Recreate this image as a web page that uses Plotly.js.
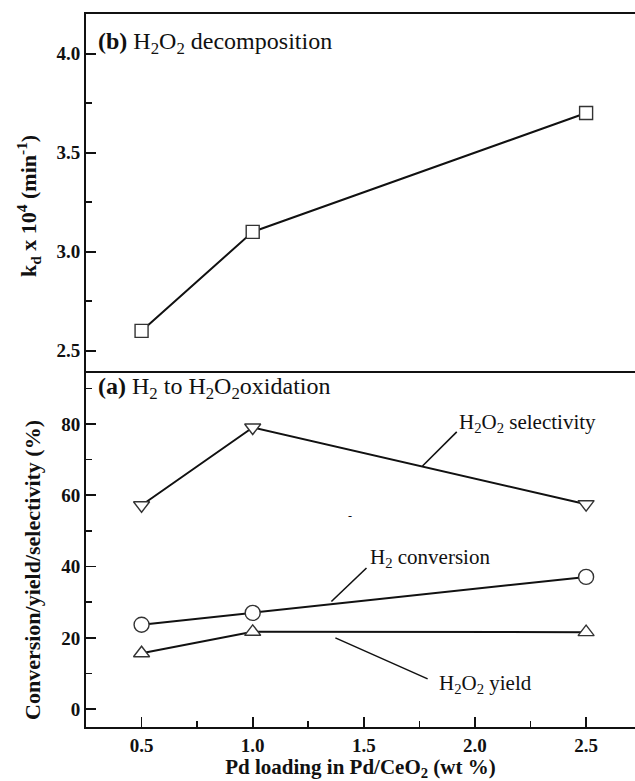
<!DOCTYPE html>
<html>
<head>
<meta charset="utf-8">
<script src="https://cdn.plot.ly/plotly-3.0.1.min.js"></script>
<style>
  html, body { margin: 0; padding: 0; background: #fff; }
  #chart { width: 635px; height: 781px; }
</style>
</head>
<body>
<div id="chart"></div>
<script>
// Pd loading (wt %) on Pd/CeO2
const pdLoading = [0.5, 1.0, 2.5];

// (b) H2O2 decomposition rate constant, kd x 10^4 (min^-1)
const kdValues = [2.6, 3.1, 3.7];

// (a) H2 to H2O2 oxidation (%)
const h2o2Selectivity = [57.2, 79.0, 57.5];
const h2Conversion = [23.7, 27.0, 37.1];
const h2o2Yield = [15.7, 21.7, 21.6];

const xTickVals = [0.5, 1.0, 1.5, 2.0, 2.5];
const xTickText = ['0.5', '1.0', '1.5', '2.0', '2.5'];
const kdTickVals = [2.5, 3.0, 3.5, 4.0];
const kdTickText = ['2.5', '3.0', '3.5', '4.0'];
const pctTickVals = [0, 20, 40, 60, 80];
const pctTickText = ['0', '20', '40', '60', '80'];

const SERIF = 'Liberation Serif, Times New Roman, serif';
const INK = '#111';
const MARK_EDGE = '#333';

function series(x, y, symbol, size, xa, ya) {
  return {
    x: x, y: y, xaxis: xa, yaxis: ya,
    type: 'scatter', mode: 'lines+markers',
    line: { color: INK, width: 2 },
    marker: { symbol: symbol, size: size, color: '#fff',
              line: { color: MARK_EDGE, width: 1.4 } },
    showlegend: false, hoverinfo: 'x+y'
  };
}

const traces = [
  series(pdLoading, kdValues, 'square', 13, 'x2', 'y2'),
  series(pdLoading, h2o2Selectivity, 'triangle-down', 14, 'x', 'y'),
  series(pdLoading, h2Conversion, 'circle', 15, 'x', 'y'),
  series(pdLoading, h2o2Yield, 'triangle-up', 14, 'x', 'y')
];

const tickFont = { family: SERIF, size: 19, color: INK, weight: 'bold' };
const titleFont = { family: SERIF, size: 21, color: INK, weight: 'bold' };
const yTitleFont = { family: SERIF, size: 22, color: INK, weight: 'bold' };
const xRange = [0.25, 2.72];

const baseAxis = {
  showgrid: false, zeroline: false,
  showline: true, linecolor: INK, linewidth: 2,
  ticks: 'inside', ticklen: 10, tickwidth: 1.8, tickcolor: INK,
  tickfont: tickFont
};

// leader line from a label to its curve
function leader(x0, y0, x1, y1) {
  return { type: 'line', xref: 'x', yref: 'y', x0: x0, y0: y0, x1: x1, y1: y1,
           line: { color: INK, width: 1.6 } };
}

function curveLabel(text, x, y) {
  return { text: text, xref: 'x', yref: 'y', x: x, y: y,
           xanchor: 'left', yanchor: 'middle', showarrow: false,
           font: { family: SERIF, size: 21, color: INK } };
}

// rotated axis title placed beside a panel
function sideTitle(text, yPaper, xShift) {
  return { text: text, xref: 'paper', yref: 'paper', x: 0, y: yPaper,
           xshift: xShift, xanchor: 'center', yanchor: 'middle',
           textangle: -90, showarrow: false, font: yTitleFont };
}

const layout = {
  width: 635, height: 781,
  margin: { l: 86, r: 0, t: 14, b: 54 },
  paper_bgcolor: '#fff', plot_bgcolor: '#fff',
  xaxis: Object.assign({}, baseAxis, {
    domain: [0, 1], anchor: 'y', range: xRange,
    tickvals: xTickVals, ticktext: xTickText,
    minor: { dtick: 0.25, tick0: 0.25, ticks: 'inside', ticklen: 6, tickwidth: 1.6, tickcolor: INK },
    mirror: false,
    title: { text: 'Pd loading in Pd/CeO<sub>2</sub> (wt %)', font: titleFont, standoff: 8 }
  }),
  yaxis: Object.assign({}, baseAxis, {
    domain: [0, 0.5], anchor: 'x', range: [-5, 95],
    tickvals: pctTickVals, ticktext: pctTickText,
    minor: { dtick: 10, tick0: 0, ticks: 'inside', ticklen: 6, tickwidth: 1.6, tickcolor: INK }
  }),
  xaxis2: {
    domain: [0, 1], anchor: 'y2', range: xRange,
    showgrid: false, zeroline: false, showticklabels: false, ticks: '',
    showline: true, mirror: true, linecolor: INK, linewidth: 2
  },
  yaxis2: Object.assign({}, baseAxis, {
    domain: [0.5, 1], anchor: 'x2', range: [2.4, 4.2],
    tickvals: kdTickVals, ticktext: kdTickText,
    minor: { dtick: 0.25, tick0: 2.5, ticks: 'inside', ticklen: 6, tickwidth: 1.6, tickcolor: INK }
  }),
  shapes: [
    leader(1.918, 77.8, 1.764, 68.2),
    leader(1.512, 39.6, 1.354, 30.2),
    leader(1.787, 8.5, 1.372, 20.0)
  ],
  annotations: [
    sideTitle('k<sub>d</sub> x 10<sup>4</sup> (min<sup>-1</sup>)', 0.7307, -58),
    sideTitle('Conversion/yield/selectivity (%)', 0.2202, -53),
    { text: '<b>(b)</b> H<sub>2</sub>O<sub>2</sub> decomposition',
      xref: 'paper', yref: 'paper', x: 0.018, y: 0.959,
      xanchor: 'left', yanchor: 'middle', showarrow: false,
      font: { family: SERIF, size: 24, color: INK } },
    { text: '<b>(a)</b> H<sub>2</sub> to H<sub>2</sub>O<sub>2</sub>oxidation',
      xref: 'paper', yref: 'paper', x: 0.018, y: 0.4755,
      xanchor: 'left', yanchor: 'middle', showarrow: false,
      font: { family: SERIF, size: 24, color: INK } },
    curveLabel('H<sub>2</sub>O<sub>2</sub> selectivity', 1.918, 80.3),
    curveLabel('H<sub>2</sub> conversion', 1.517, 42.4),
    curveLabel('H<sub>2</sub>O<sub>2</sub> yield', 1.827, 7.1),
    { text: '-', xref: 'x', yref: 'y', x: 1.436, y: 54.3, showarrow: false,
      font: { family: SERIF, size: 12, color: INK } }
  ]
};

Plotly.newPlot('chart', traces, layout, { displayModeBar: false, staticPlot: true });
</script>
</body>
</html>
